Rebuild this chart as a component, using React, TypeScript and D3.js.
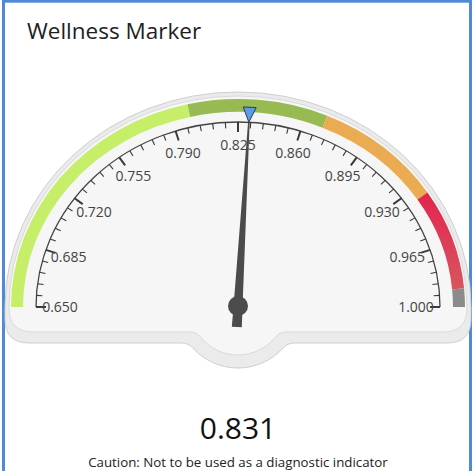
import React from "react";
import * as d3 from "d3";

// gauge scale
const scaleMin = 0.65;
const scaleMax = 1.0;
const majorTicks = [0.65, 0.685, 0.72, 0.755, 0.79, 0.825, 0.86, 0.895, 0.93, 0.965, 1.0];
const minorPerMajor = 4;

// coloured ranges
const rangeStarts = [0.65, 0.8, 0.87, 0.935, 0.99];
const rangeEnds = [0.8, 0.87, 0.935, 0.99, 1.0];
const rangeColors = ["#c6ee68", "#97bb52", "#eaab52", "url(#redGrad)", "#8b8b8b"];

const needleValue = 0.831;
const markerValue = 0.831;

const titleText = "Wellness Marker";
const cautionText = "Caution: Not to be used as a diagnostic indicator";

const W = 474;
const H = 471;
const cx = 238;
const cy = 307;
const rx = 202; // axis ellipse
const ry = 185;
const font = "'Open Sans', 'Noto Sans', sans-serif";

const angle = d3.scaleLinear().domain([scaleMin, scaleMax]).range([Math.PI, 0]);
const fmt = d3.format(".3f");

const pt = (a: number, ex: number, ey: number): [number, number] => [
  cx + ex * Math.cos(a),
  cy - ey * Math.sin(a),
];

function bandPath(v0: number, v1: number, ox: number, oy: number, ix: number, iy: number) {
  const a0 = angle(v0);
  const a1 = angle(v1);
  const [x0, y0] = pt(a0, ox, oy);
  const [x1, y1] = pt(a1, ox, oy);
  const [x2, y2] = pt(a1, ix, iy);
  const [x3, y3] = pt(a0, ix, iy);
  return `M${x0},${y0}A${ox},${oy} 0 0 1 ${x1},${y1}L${x2},${y2}A${ix},${iy} 0 0 0 ${x3},${y3}Z`;
}

// the "fitted" backing with a round bump under the pivot
function backingPath(ex: number, ey: number, yBottom: number, corner: number, bumpR: number) {
  const left = cx - ex;
  const right = cx + ex;
  const dy = yBottom - cy;
  const dx = Math.sqrt(bumpR * bumpR - dy * dy);
  const dy2 = dy + 5;
  const dx2 = Math.sqrt(bumpR * bumpR - dy2 * dy2);
  return [
    `M${left},${cy}`,
    `A${ex},${ey} 0 0 1 ${right},${cy}`,
    `L${right},${yBottom - corner}`,
    `Q${right},${yBottom} ${right - corner},${yBottom}`,
    `L${cx + dx + 8},${yBottom}`,
    `Q${cx + dx},${yBottom} ${cx + dx2},${cy + dy2}`,
    `A${bumpR},${bumpR} 0 0 1 ${cx - dx2},${cy + dy2}`,
    `Q${cx - dx},${yBottom} ${cx - dx - 8},${yBottom}`,
    `L${left + corner},${yBottom}`,
    `Q${left},${yBottom} ${left},${yBottom - corner}`,
    "Z",
  ].join(" ");
}

export default function App() {
  // ticks
  const step = (majorTicks[1] - majorTicks[0]) / (minorPerMajor + 1);
  const allTicks = d3.range(0, (scaleMax - scaleMin) / step + 0.5).map((i) => ({
    v: scaleMin + i * step,
    major: i % (minorPerMajor + 1) === 0,
  }));

  // needle
  const na = angle(needleValue);
  const [tx, ty] = pt(na, rx, ry);
  const len = Math.hypot(tx - cx, ty - cy);
  const ux = (tx - cx) / len;
  const uy = (ty - cy) / len;
  const nx = -uy;
  const ny = ux;
  const needle = [
    [cx + nx * 4.5, cy + ny * 4.5],
    [tx + nx * 0.8, ty + ny * 0.8],
    [tx - nx * 0.8, ty - ny * 0.8],
    [cx - nx * 4.5, cy - ny * 4.5],
    [cx - nx * 5 - ux * 20, cy - ny * 5 - uy * 20],
    [cx + nx * 5 - ux * 20, cy + ny * 5 - uy * 20],
  ];
  const needleD = d3.line()(needle as [number, number][]) + "Z";

  // marker triangle
  const ma = angle(markerValue);
  const [mx0, my0] = pt(ma, rx, ry);
  const [mx1, my1] = pt(ma, rx + 15, ry + 15);
  const mdx = mx1 - mx0;
  const mdy = my1 - my0;
  const ml = Math.hypot(mdx, mdy);
  const px = -mdy / ml;
  const py = mdx / ml;
  const markerD =
    d3.line()([
      [mx0, my0],
      [mx1 + px * 6.5, my1 + py * 6.5],
      [mx1 - px * 6.5, my1 - py * 6.5],
    ] as [number, number][]) + "Z";

  const [ax0, ay0] = pt(Math.PI, rx, ry);
  const [ax1, ay1] = pt(0, rx, ry);

  return (
    <svg
      width={W}
      height={H}
      style={{ position: "fixed", left: 0, top: 0, background: "#fff" }}
    >
      <defs>
        <linearGradient id="redGrad" gradientUnits="userSpaceOnUse" x1={0} y1={195} x2={0} y2={292}>
          <stop offset="0" stopColor="#e2264f" />
          <stop offset="1" stopColor="#d7565f" />
        </linearGradient>
      </defs>
      <rect x={3.5} y={1.2} width={467} height={520} fill="#fff" stroke="#4f8ad6" strokeWidth={3} />
      <text x={27} y={39} fontFamily={font} fontSize={22.5} fill="#1e1e1e">
        {titleText}
      </text>

      {/* backing */}
      <path d={backingPath(233, 215, 343, 24, 61)} fill="#ebebeb" stroke="#cfcfcf" strokeWidth={1} />
      <path d={backingPath(229, 211, 332, 24, 48)} fill="#f6f6f6" stroke="#dadada" strokeWidth={1} />

      {/* ranges */}
      {rangeStarts.map((s, i) => (
        <path key={i} d={bandPath(s, rangeEnds[i], 227, 208, 215, 195)} fill={rangeColors[i]} />
      ))}

      {/* axis */}
      <path d={`M${ax0},${ay0}A${rx},${ry} 0 0 1 ${ax1},${ay1}`} fill="none" stroke="#444" strokeWidth={1.3} />
      {allTicks.map((t, i) => {
        const a = angle(t.v);
        const l = t.major ? 10 : 6;
        const [x1, y1] = pt(a, rx, ry);
        const [x2, y2] = pt(a, rx - l, ry - l);
        return (
          <line
            key={i}
            x1={x1}
            y1={y1}
            x2={x2}
            y2={y2}
            stroke="#3a3a3a"
            strokeWidth={t.major ? 2 : 1.1}
          />
        );
      })}
      {majorTicks.map((v, i) => {
        const [x, y] = pt(angle(v), 178, 162);
        return (
          <text
            key={i}
            x={x}
            y={y}
            dy="0.35em"
            textAnchor="middle"
            fontFamily={font}
            fontSize={14}
            fill="#444"
          >
            {fmt(v)}
          </text>
        );
      })}

      {/* needle */}
      <path d={needleD} fill="#4b4b4b" />
      <circle cx={cx} cy={cy - 1} r={10} fill="#4b4b4b" />
      <path d={markerD} fill="#5b9ce6" stroke="#2e3a4a" strokeWidth={1} />

      <text x={cx} y={439} textAnchor="middle" fontFamily={font} fontSize={30} fill="#111">
        {fmt(needleValue)}
      </text>
      <text x={cx} y={467} textAnchor="middle" fontFamily={font} fontSize={13.3} fill="#222">
        {cautionText}
      </text>
    </svg>
  );
}
